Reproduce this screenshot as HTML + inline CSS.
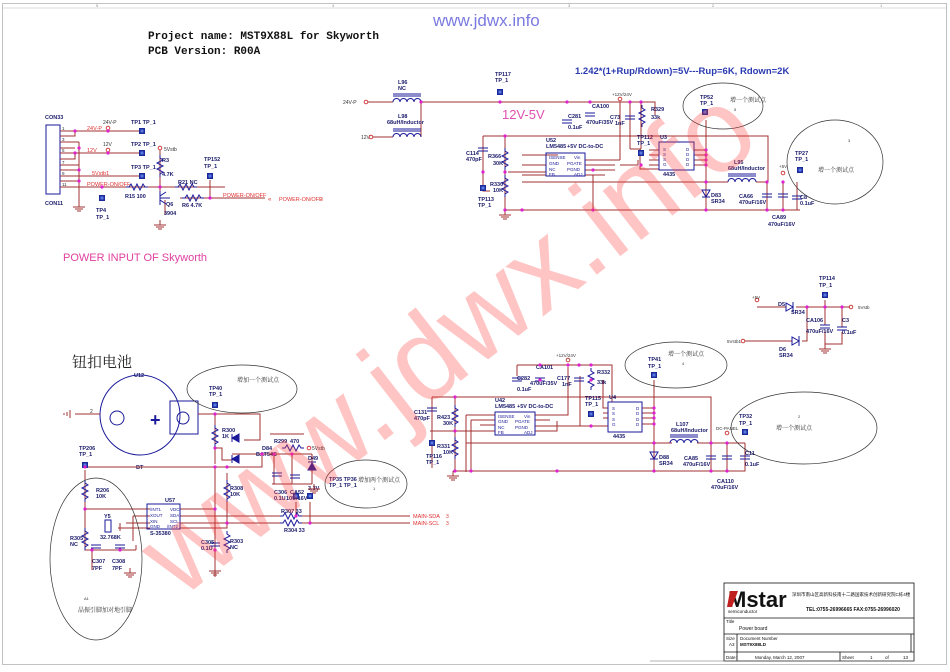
<!DOCTYPE html>
<html><head><meta charset="utf-8"><style>
html,body{margin:0;padding:0;background:#fff;width:950px;height:672px;overflow:hidden}
svg{display:block}
text{font-family:"Liberation Sans","Noto Sans CJK SC",sans-serif}
.w{stroke:#a03030;stroke-width:1;fill:none}
.b{stroke:#1a1a9a;stroke-width:1;fill:none}
.lb{font-size:5.5px;fill:#1a1a6a;font-weight:bold}
.rl{font-size:5.5px;fill:#e03030}
.cn{font-size:6px;fill:#333;font-family:"Liberation Serif","Noto Serif CJK SC",serif}
</style></head><body>
<svg width="950" height="672" viewBox="0 0 950 672" xmlns="http://www.w3.org/2000/svg">
<defs>
<g id="tp"><rect x="-3" y="-3" width="6" height="6" fill="#1a2a9a"/><rect x="-1.5" y="-1.5" width="3" height="3" fill="#5a7ae0"/></g>
<g id="gnd"><line x1="0" y1="0" x2="0" y2="5" stroke="#a03030"/><line x1="-6" y1="5" x2="6" y2="5" stroke="#a03030"/><line x1="-4" y1="7" x2="4" y2="7" stroke="#a03030"/><line x1="-2" y1="9" x2="2" y2="9" stroke="#a03030"/></g>
<g id="rv"><path d="M0,0 l0,3 l3,2 l-6,3 l6,3 l-6,3 l6,3 l-3,2 l0,3" stroke="#1a1a9a" fill="none"/></g>
<g id="rh"><path d="M0,0 l3,0 l2,-3 l3,6 l3,-6 l3,6 l3,-6 l2,3 l3,0" stroke="#1a1a9a" fill="none"/></g>
<g id="cv"><line x1="-5" y1="0" x2="5" y2="0" stroke="#1a1a9a"/><line x1="-5" y1="3" x2="5" y2="3" stroke="#1a1a9a"/></g>
<g id="dot"><circle r="1.6" fill="#e020d0"/></g>
<g id="ind"><path d="M0,0 a3.5,3.5 0 0 1 7,0 a3.5,3.5 0 0 1 7,0 a3.5,3.5 0 0 1 7,0 a3.5,3.5 0 0 1 7,0" stroke="#1a1a9a" fill="none"/><line x1="0" y1="-6" x2="28" y2="-6" stroke="#1a1a9a"/><line x1="0" y1="-8" x2="28" y2="-8" stroke="#1a1a9a"/></g>
</defs>

<!-- frame -->
<rect x="2.5" y="3.5" width="944" height="661" fill="none" stroke="#999" stroke-width="0.6"/>
<line x1="2" y1="8" x2="947" y2="8" stroke="#bbb" stroke-width="0.5"/>
<g font-size="4" fill="#888"><text x="96" y="7">5</text><text x="332" y="7">4</text><text x="568" y="7">3</text><text x="712" y="7">2</text><text x="880" y="7">1</text></g>

<!-- header texts -->
<text x="433" y="26" font-size="17" fill="#7a7ae0">www.jdwx.info</text>
<text x="148" y="39" font-size="11" font-weight="bold" fill="#111" style="font-family:'Liberation Mono',monospace">Project name: MST9X88L for Skyworth</text>
<text x="148" y="54" font-size="11" font-weight="bold" fill="#111" style="font-family:'Liberation Mono',monospace">PCB Version: R00A</text>
<text x="575" y="74" font-size="9.5" font-weight="bold" fill="#2a3ab0">1.242*(1+Rup/Rdown)=5V---Rup=6K, Rdown=2K</text>
<text x="63" y="261" font-size="11" fill="#e040a0">POWER INPUT OF Skyworth</text>
<text x="72" y="367" font-size="15" fill="#222" style="font-family:'Noto Serif CJK SC',serif">钮扣电池</text>

<!-- ===== top-left connector ===== -->
<text x="45" y="119" class="lb">CON33</text>
<rect x="46" y="125" width="14" height="69" fill="none" stroke="#1a1a9a"/>
<text x="45" y="205" class="lb">CON11</text>
<g class="w">
<path d="M60,131 h80 M60,136 h15 v-5 M60,142 h19 M60,148 h15 M60,153 h82 M60,159 h15 v-6 M60,165 h19 M60,170 h19 M60,176 h82 M60,181 h19 M60,187 h165"/>
<path d="M79,142 v60"/>
<path d="M160,150 v37 M160,187 v5 M165,200 v15 M180,198 h30 M170,187 h40 M210,180 v18 M210,198 h55"/>
</g>
<g font-size="4.5" fill="#333"><text x="62" y="130">1</text><text x="62" y="141">3</text><text x="62" y="152">5</text><text x="62" y="164">7</text><text x="62" y="175">9</text><text x="62" y="186">11</text></g>
<text x="87" y="130" class="rl">24V-P</text><text x="87" y="152" class="rl">12V</text><text x="92" y="175" class="rl">5Vstb1</text><text x="87" y="186" class="rl">POWER-ON/OFF</text>
<text x="103" y="124" font-size="5" fill="#333">24V-P</text><text x="103" y="146" font-size="5" fill="#333">12V</text>
<circle cx="108" cy="128" r="1.8" fill="none" stroke="#d04040"/><circle cx="108" cy="150" r="1.8" fill="none" stroke="#d04040"/>
<use href="#tp" x="142" y="131"/><use href="#tp" x="142" y="153"/><use href="#tp" x="142" y="176"/>
<text x="131" y="124" class="lb">TP1 TP_1</text><text x="131" y="146" class="lb">TP2 TP_1</text><text x="131" y="169" class="lb">TP3 TP_1</text>
<use href="#dot" x="75" y="131"/><use href="#dot" x="75" y="153"/><use href="#dot" x="79" y="170"/><use href="#dot" x="79" y="181"/><use href="#dot" x="79" y="148"/><use href="#dot" x="108" y="153"/><use href="#dot" x="108" y="131"/><use href="#dot" x="102" y="187"/><use href="#dot" x="160" y="187"/><use href="#dot" x="210" y="198"/>
<use href="#gnd" x="79" y="202"/>
<use href="#tp" x="102" y="198"/><text x="96" y="212" class="lb">TP4</text><text x="96" y="219" class="lb">TP_1</text>
<circle cx="160" cy="148" r="1.8" fill="none" stroke="#d04040"/><text x="164" y="151" font-size="5" fill="#333">5Vstb</text>
<use href="#rv" x="160" y="155"/><text x="162" y="162" class="lb">R3</text><text x="162" y="176" class="lb">4.7K</text>
<use href="#rh" x="126" y="187"/><text x="125" y="198" class="lb">R15 100</text>
<use href="#rh" x="175" y="187"/><text x="178" y="184" class="lb">R21 NC</text>
<use href="#rh" x="182" y="198"/><text x="182" y="207" class="lb">R6 4.7K</text>
<path d="M160,191 v14 M160,196 l6,-4 M160,200 l6,4 M170,198 h-10" stroke="#1a1a9a" fill="none"/>
<text x="166" y="206" class="lb">Q6</text><text x="164" y="215" class="lb">3904</text>
<use href="#gnd" x="160" y="220"/>
<use href="#tp" x="210" y="176"/><text x="204" y="161" class="lb">TP152</text><text x="204" y="168" class="lb">TP_1</text>
<text x="223" y="197" class="rl">POWER-ON/OFF</text><text x="268" y="201" font-size="6" fill="#e03030">«</text><text x="279" y="201" class="rl">POWER-ON/OFF</text><text x="320" y="201" font-size="5" fill="#e03030">3</text>

<!-- ===== top-middle buck ===== -->
<text x="343" y="104" font-size="5" fill="#333">24V-P</text><circle cx="366" cy="102" r="1.8" fill="none" stroke="#d04040"/>
<text x="361" y="139" font-size="5" fill="#333">12V</text><circle cx="371" cy="137" r="1.8" fill="none" stroke="#d04040"/>
<g class="w"><path d="M368,102 h25 M421,102 h234 v13 M373,137 h20 M421,102 v35"/>
<path d="M483,136 h285 v45 M483,136 v55 h7 M505,136 v74 M505,210 h295 M522,155 h36 M522,165 h24 M522,175 h24 M508,172 h38 M585,160 h35 M585,170 h30 M585,165 h30 M585,175 h20 M620,160 v-58 M593,175 v35 M620,165 h18 v-5 M630,102 v47 M641,102 v47 M630,149 h11 M640,149 v20 h19 M659,150 h-10 M659,155 h-10 M659,160 h-10 M659,165 h-10 M694,150 h12 M694,155 h12 M694,160 h12 M694,165 h12 M706,120 v90 M522,182 h206 M756,182 h12 M767,182 v28 M783,182 v28 M797,182 v28"/></g>
<use href="#ind" x="393" y="102"/><use href="#ind" x="393" y="137"/>
<text x="398" y="84" class="lb">L96</text><text x="398" y="90" class="lb">NC</text><text x="398" y="118" class="lb">L98</text><text x="387" y="124" class="lb">68uH/Inductor</text>
<use href="#tp" x="500" y="92"/><text x="495" y="76" class="lb">TP117</text><text x="495" y="82" class="lb">TP_1</text>
<text x="502" y="119" font-size="13" fill="#e050b0">12V-5V</text>
<use href="#cv" x="567" y="120"/><text x="568" y="118" class="lb">C281</text><text x="568" y="129" class="lb">0.1uF</text>
<use href="#cv" x="590" y="113"/><text x="592" y="108" class="lb">CA100</text><text x="586" y="124" class="lb">470uF/35V</text>
<use href="#cv" x="630" y="116"/><text x="610" y="119" class="lb">C73</text><text x="615" y="125" class="lb">1nF</text>
<use href="#rv" x="642" y="105"/><text x="651" y="111" class="lb">R329</text><text x="651" y="119" class="lb">33k</text>
<text x="612" y="96" font-size="4.5" fill="#333">+12V/24V</text><circle cx="620" cy="99" r="1.8" fill="none" stroke="#d04040"/>
<rect x="546" y="153" width="39" height="23" fill="none" stroke="#1a1a9a"/>
<text x="546" y="142" class="lb">U52</text><text x="546" y="148" class="lb">LM5485</text><text x="567" y="148" class="lb">+5V DC-to-DC</text>
<g font-size="4.5" fill="#1a1a9a"><text x="549" y="159">ISENSE</text><text x="549" y="165">GND</text><text x="549" y="171">NC</text><text x="549" y="176">FB</text><text x="574" y="159">Vin</text><text x="567" y="165">PGATE</text><text x="567" y="171">PGND</text><text x="574" y="176">ADJ</text></g>
<use href="#cv" x="483" y="148"/><text x="466" y="155" class="lb">C114</text><text x="466" y="161" class="lb">470pF</text>
<use href="#rv" x="505" y="148"/><text x="488" y="158" class="lb">R366</text><text x="493" y="165" class="lb">30K</text>
<use href="#rv" x="505" y="175"/><text x="490" y="186" class="lb">R330</text><text x="493" y="192" class="lb">10K</text>
<use href="#tp" x="483" y="188"/><text x="478" y="201" class="lb">TP113</text><text x="478" y="207" class="lb">TP_1</text>
<use href="#gnd" x="505" y="210"/>
<rect x="659" y="142" width="35" height="28" fill="none" stroke="#1a1a9a"/><text x="660" y="139" class="lb">U3</text><text x="663" y="176" class="lb">4435</text>
<g font-size="4.5" fill="#1a1a9a"><text x="663" y="151">S</text><text x="663" y="156">S</text><text x="663" y="161">S</text><text x="663" y="166">G</text><text x="686" y="151">D</text><text x="686" y="156">D</text><text x="686" y="161">D</text><text x="686" y="166">D</text></g>
<use href="#tp" x="641" y="153"/><text x="637" y="139" class="lb">TP112</text><text x="637" y="145" class="lb">TP_1</text>
<use href="#tp" x="705" y="112"/><text x="700" y="99" class="lb">TP52</text><text x="700" y="105" class="lb">TP_1</text>
<ellipse cx="723" cy="106" rx="40" ry="23" fill="none" stroke="#333" stroke-width="0.7"/><text x="730" y="102" class="cn">增一个测试点</text><text x="734" y="111" font-size="4" fill="#333">5</text>
<ellipse cx="835" cy="162" rx="48" ry="42" fill="none" stroke="#333" stroke-width="0.7"/><text x="818" y="172" class="cn">增一个测试点</text><text x="848" y="142" font-size="4" fill="#333">3</text>
<use href="#ind" x="728" y="182"/><text x="734" y="164" class="lb">L95</text><text x="728" y="170" class="lb">68uH/Inductor</text>
<path d="M702,190 h8 l-4,7 z M702,197 h8" stroke="#1a1a9a" fill="none"/><text x="711" y="197" class="lb">D83</text><text x="711" y="203" class="lb">SR34</text>
<use href="#cv" x="767" y="194"/><text x="739" y="198" class="lb">CA66</text><text x="739" y="204" class="lb">470uF/16V</text>
<use href="#cv" x="783" y="194"/><use href="#cv" x="797" y="196"/><text x="800" y="199" class="lb">C8</text><text x="800" y="205" class="lb">0.1uF</text>
<text x="772" y="219" class="lb">CA89</text><text x="768" y="226" class="lb">470uF/16V</text>
<circle cx="783" cy="173" r="1.8" fill="none" stroke="#d04040"/><text x="779" y="168" font-size="4.5" fill="#333">+5V</text>
<use href="#tp" x="800" y="170"/><text x="795" y="155" class="lb">TP27</text><text x="795" y="161" class="lb">TP_1</text>
<g><use href="#dot" x="421" y="102"/><use href="#dot" x="500" y="102"/><use href="#dot" x="567" y="102"/><use href="#dot" x="590" y="102"/><use href="#dot" x="630" y="102"/><use href="#dot" x="641" y="102"/><use href="#dot" x="505" y="136"/><use href="#dot" x="483" y="172"/><use href="#dot" x="505" y="172"/><use href="#dot" x="505" y="210"/><use href="#dot" x="522" y="210"/><use href="#dot" x="593" y="210"/><use href="#dot" x="706" y="210"/><use href="#dot" x="767" y="210"/><use href="#dot" x="783" y="210"/><use href="#dot" x="706" y="150"/><use href="#dot" x="706" y="155"/><use href="#dot" x="706" y="160"/><use href="#dot" x="706" y="165"/><use href="#dot" x="706" y="182"/><use href="#dot" x="767" y="182"/><use href="#dot" x="783" y="182"/><use href="#dot" x="641" y="165"/><use href="#dot" x="593" y="170"/></g>

<!-- ===== 5Vstb OR ===== -->
<g class="w"><path d="M757,307 h29 M796,307 h54 M745,341 h47 M802,341 h5 v-34 M825,300 v25 M842,307 v20 M825,330 v14 M842,332 v12 h-17"/></g>
<circle cx="757" cy="300" r="1.8" fill="none" stroke="#d04040"/><text x="752" y="299" font-size="4.5" fill="#333">+5V</text>
<path d="M786,303 v8 l7,-4 z M793,302 v10" stroke="#1a1a9a" fill="none"/><text x="778" y="306" class="lb">D5</text><text x="791" y="314" class="lb">SR34</text>
<path d="M792,337 v8 l7,-4 z M799,336 v10" stroke="#1a1a9a" fill="none"/><text x="779" y="351" class="lb">D6</text><text x="779" y="357" class="lb">SR34</text>
<circle cx="743" cy="341" r="1.8" fill="none" stroke="#d04040"/><text x="741" y="343" font-size="4.5" fill="#333" text-anchor="end">5Vstb1</text>
<circle cx="851" cy="307" r="1.8" fill="none" stroke="#d04040"/><text x="858" y="309" font-size="4.5" fill="#333">5Vstb</text>
<use href="#tp" x="825" y="295"/><text x="819" y="280" class="lb">TP114</text><text x="819" y="287" class="lb">TP_1</text>
<use href="#cv" x="825" y="325"/><text x="806" y="322" class="lb">CA106</text><text x="806" y="333" class="lb">470uF/16V</text>
<use href="#cv" x="842" y="327"/><text x="842" y="322" class="lb">C3</text><text x="842" y="334" class="lb">0.1uF</text>
<use href="#gnd" x="825" y="344"/>
<use href="#dot" x="807" y="307"/><use href="#dot" x="825" y="307"/><use href="#dot" x="842" y="307"/>

<!-- ===== bottom buck ===== -->
<g class="w"><path d="M517,365 h95 v37 M432,397 h279 v46 M432,397 v71 M455,397 v74 M453,471 h292 v-28 M466,415 h29 M466,415 v57 M471,420 h24 M471,420 v51 M480,425 h15 M430,431 h65 M535,415 h33 v-48 M535,420 h15 M535,426 h45 v-50 M535,431 h22 v-10 M568,426 h40 M608,408 h-5 v-28 M608,413 h-5 M608,418 h-5 M642,408 h12 M642,413 h12 M642,418 h12 M642,424 h12 M654,380 v91 M466,443 h206 M697,443 h48 M711,443 v28 M727,443 v28 M517,365 v11"/></g>
<use href="#ind" x="670" y="443"/><text x="676" y="426" class="lb">L107</text><text x="671" y="432" class="lb">68uH/Inductor</text>
<use href="#cv" x="517" y="378"/><text x="517" y="380" class="lb">C282</text><text x="517" y="391" class="lb">0.1uF</text>
<use href="#cv" x="540" y="378"/><text x="536" y="369" class="lb">CA101</text><text x="530" y="385" class="lb">470uF/35V</text>
<use href="#cv" x="579" y="378"/><text x="557" y="380" class="lb">C177</text><text x="562" y="386" class="lb">1nF</text>
<use href="#rv" x="591" y="368"/><text x="597" y="374" class="lb">R332</text><text x="597" y="384" class="lb">33k</text>
<text x="556" y="357" font-size="4.5" fill="#333">+12V/24V</text><circle cx="568" cy="360" r="1.8" fill="none" stroke="#d04040"/>
<rect x="495" y="412" width="40" height="23" fill="none" stroke="#1a1a9a"/>
<text x="495" y="402" class="lb">U42</text><text x="495" y="408" class="lb">LM5485</text><text x="517" y="408" class="lb">+5V DC-to-DC</text>
<g font-size="4.5" fill="#1a1a9a"><text x="498" y="418">ISENSE</text><text x="498" y="423">GND</text><text x="498" y="429">NC</text><text x="498" y="434">FB</text><text x="524" y="418">Vin</text><text x="515" y="423">PGATE</text><text x="515" y="429">PGND</text><text x="524" y="434">ADJ</text></g>
<use href="#cv" x="432" y="408"/><text x="414" y="414" class="lb">C131</text><text x="414" y="420" class="lb">470pF</text>
<use href="#rv" x="455" y="405"/><text x="437" y="419" class="lb">R423</text><text x="443" y="425" class="lb">30K</text>
<use href="#rv" x="455" y="437"/><text x="437" y="448" class="lb">R331</text><text x="443" y="454" class="lb">10K</text>
<use href="#tp" x="432" y="443"/><text x="426" y="458" class="lb">TP116</text><text x="426" y="464" class="lb">TP_1</text>
<use href="#gnd" x="453" y="471"/>
<rect x="608" y="402" width="34" height="30" fill="none" stroke="#1a1a9a"/><text x="609" y="399" class="lb">U4</text><text x="613" y="438" class="lb">4435</text>
<g font-size="4.5" fill="#1a1a9a"><text x="612" y="410">S</text><text x="612" y="415">S</text><text x="612" y="421">S</text><text x="612" y="426">G</text><text x="636" y="410">D</text><text x="636" y="415">D</text><text x="636" y="421">D</text><text x="636" y="426">D</text></g>
<use href="#tp" x="591" y="414"/><text x="585" y="400" class="lb">TP115</text><text x="585" y="406" class="lb">TP_1</text>
<use href="#tp" x="654" y="375"/><text x="648" y="361" class="lb">TP41</text><text x="648" y="368" class="lb">TP_1</text>
<ellipse cx="676" cy="365" rx="51" ry="23" fill="none" stroke="#333" stroke-width="0.7"/><text x="668" y="356" class="cn">增一个测试点</text><text x="682" y="365" font-size="4" fill="#333">4</text>
<ellipse cx="804" cy="428" rx="73" ry="36" fill="none" stroke="#333" stroke-width="0.7"/><text x="776" y="430" class="cn">增一个测试点</text><text x="798" y="418" font-size="4" fill="#333">2</text>
<use href="#tp" x="745" y="432"/><text x="739" y="418" class="lb">TP32</text><text x="739" y="425" class="lb">TP_1</text>
<circle cx="727" cy="433" r="1.8" fill="none" stroke="#d04040"/><text x="716" y="430" font-size="4.5" fill="#333">DC-PANEL</text>
<path d="M650,452 h8 l-4,7 z M650,459 h8" stroke="#1a1a9a" fill="none"/><text x="659" y="459" class="lb">D88</text><text x="659" y="465" class="lb">SR34</text>
<use href="#cv" x="711" y="456"/><text x="684" y="460" class="lb">CA85</text><text x="683" y="466" class="lb">470uF/16V</text>
<use href="#cv" x="727" y="456"/><use href="#cv" x="745" y="456"/><text x="745" y="455" class="lb">C11</text><text x="745" y="466" class="lb">0.1uF</text>
<text x="717" y="483" class="lb">CA110</text><text x="711" y="489" class="lb">470uF/16V</text>
<g><use href="#dot" x="540" y="365"/><use href="#dot" x="568" y="365"/><use href="#dot" x="579" y="365"/><use href="#dot" x="591" y="365"/><use href="#dot" x="455" y="397"/><use href="#dot" x="455" y="431"/><use href="#dot" x="455" y="471"/><use href="#dot" x="471" y="471"/><use href="#dot" x="557" y="471"/><use href="#dot" x="654" y="471"/><use href="#dot" x="711" y="471"/><use href="#dot" x="727" y="471"/><use href="#dot" x="654" y="408"/><use href="#dot" x="654" y="413"/><use href="#dot" x="654" y="418"/><use href="#dot" x="654" y="424"/><use href="#dot" x="654" y="443"/><use href="#dot" x="711" y="443"/><use href="#dot" x="727" y="443"/><use href="#dot" x="591" y="426"/><use href="#dot" x="540" y="380"/><use href="#dot" x="591" y="380"/></g>

<!-- ===== RTC battery section ===== -->
<circle cx="140" cy="415" r="40" fill="none" stroke="#1a1a9a"/>
<circle cx="117" cy="418" r="7" fill="none" stroke="#1a1a9a"/>
<rect x="170" y="401" width="28" height="33" fill="none" stroke="#1a1a9a"/><circle cx="183" cy="418" r="6" fill="none" stroke="#1a1a9a"/>
<text x="150" y="426" font-size="18" font-weight="bold" fill="#1a1a9a">+</text>
<text x="134" y="377" class="lb">U12</text><text x="136" y="469" class="lb">BT</text>
<g class="w"><path d="M75,414 h25 M198,414 h62 v26 h-16 M215,414 v50 M215,448 h7 v12 h10 M215,467 h47 v-13 h-30 M262,454 h50 M274,454 v30 M292,454 v30 M312,454 v30 M272,484 h40 M270,434 h34 M82,467 h180 M85,470 v80 h51 M85,509 h65 M133,516 h17 M126,523 h24 M118,528 h32 M180,509 h35 M180,516 h100 M300,516 h110 M180,523 h100 M300,523 h110 M180,528 h47 v-55 M215,467 v110 M227,508 v-30 M92,550 v20 M136,550 v-5 M120,523 v8 M133,516 v25 M296,502 v14 M310,502 v21"/></g>
<path d="M70,410 v8 M67,412 v4 M64,413 v2" stroke="#a03030"/><text x="90" y="413" font-size="5" fill="#333">2</text>
<use href="#tp" x="215" y="405"/><text x="209" y="390" class="lb">TP40</text><text x="209" y="396" class="lb">TP_1</text>
<ellipse cx="242" cy="389" rx="55" ry="24" fill="none" stroke="#333" stroke-width="0.7"/><text x="237" y="382" class="cn">增加一个测试点</text>
<use href="#rv" x="215" y="425"/><text x="222" y="432" class="lb">R300</text><text x="222" y="438" class="lb">1K</text>
<path d="M239,434 l-7,4 l7,4 z M232,434 v8 M239,455 l-7,4 l7,4 z M232,455 v8" stroke="#1a1a9a" fill="#1a1a9a"/>
<text x="262" y="450" class="lb">D84</text><text x="256" y="456" class="lb">BAT54C</text>
<use href="#rh" x="282" y="448"/><text x="274" y="443" class="lb">R299</text><text x="290" y="443" class="lb">470</text>
<circle cx="309" cy="448" r="1.8" fill="none" stroke="#d04040"/><text x="312" y="450" font-size="5" fill="#333">5Vstb</text>
<use href="#cv" x="277" y="473"/><text x="274" y="494" class="lb">C306</text><text x="274" y="500" class="lb">0.1U</text>
<use href="#cv" x="295" y="475"/><text x="290" y="494" class="lb">CA52</text><text x="286" y="500" class="lb">10U/16V</text>
<path d="M308,470 h8 l-4,-7 z M308,462 h8" stroke="#1a1a9a" fill="#1a1a9a"/><text x="308" y="460" class="lb">D49</text><text x="308" y="490" class="lb">3.3V</text>
<use href="#gnd" x="314" y="484"/>
<use href="#tp" x="85" y="465"/><text x="79" y="450" class="lb">TP206</text><text x="79" y="456" class="lb">TP_1</text>
<use href="#rv" x="85" y="480"/><text x="96" y="492" class="lb">R206</text><text x="96" y="498" class="lb">10K</text>
<use href="#rv" x="85" y="528"/><text x="70" y="540" class="lb">R305</text><text x="70" y="546" class="lb">NC</text>
<rect x="105" y="520" width="6" height="12" fill="none" stroke="#1a1a9a"/><text x="104" y="518" class="lb">Y5</text><text x="100" y="539" class="lb">32.768K</text>
<use href="#cv" x="96" y="545"/><use href="#cv" x="120" y="545"/><text x="92" y="563" class="lb">C307</text><text x="92" y="570" class="lb">7PF</text><text x="112" y="563" class="lb">C308</text><text x="112" y="570" class="lb">7PF</text>
<use href="#gnd" x="130" y="568"/>
<rect x="147" y="504" width="33" height="25" fill="none" stroke="#1a1a9a"/>
<text x="165" y="502" class="lb">U57</text><text x="150" y="535" class="lb">S-35380</text>
<g font-size="4.5" fill="#1a1a9a"><text x="150" y="511">/INT1</text><text x="150" y="517">XOUT</text><text x="150" y="523">XIN</text><text x="150" y="528">GND</text><text x="170" y="511">VDC</text><text x="170" y="517">SDA</text><text x="170" y="523">SCL</text><text x="167" y="528">/INT2</text></g>
<use href="#rv" x="227" y="480"/><text x="230" y="490" class="lb">R308</text><text x="230" y="496" class="lb">10K</text>
<use href="#rv" x="227" y="531"/><text x="230" y="543" class="lb">R303</text><text x="230" y="549" class="lb">NC</text>
<use href="#cv" x="215" y="543"/><text x="201" y="544" class="lb">C305</text><text x="201" y="550" class="lb">0.1U</text>
<use href="#gnd" x="215" y="566"/>
<use href="#rh" x="280" y="516"/><use href="#rh" x="280" y="523"/><text x="281" y="513" class="lb">R307 33</text><text x="284" y="532" class="lb">R304 33</text>
<text x="413" y="518" class="rl">MAIN-SDA</text><text x="413" y="525" class="rl">MAIN-SCL</text><text x="446" y="518" font-size="5" fill="#e03030">3</text><text x="446" y="525" font-size="5" fill="#e03030">3</text>
<use href="#tp" x="296" y="496"/><use href="#tp" x="310" y="496"/><text x="329" y="481" class="lb">TP35 TP36</text><text x="329" y="487" class="lb">TP_1 TP_1</text>
<ellipse cx="366" cy="484" rx="41" ry="24" fill="none" stroke="#333" stroke-width="0.7"/><text x="358" y="482" class="cn">增加两个测试点</text><text x="373" y="490" font-size="4" fill="#333">1</text>
<ellipse cx="96" cy="559" rx="46" ry="81" fill="none" stroke="#333" stroke-width="0.7"/><text x="84" y="600" font-size="4" fill="#333">A1</text><text x="78" y="612" class="cn">晶振引脚加对地引脚</text>
<g><use href="#dot" x="215" y="414"/><use href="#dot" x="215" y="448"/><use href="#dot" x="215" y="467"/><use href="#dot" x="227" y="467"/><use href="#dot" x="262" y="454"/><use href="#dot" x="274" y="454"/><use href="#dot" x="292" y="454"/><use href="#dot" x="85" y="509"/><use href="#dot" x="215" y="509"/><use href="#dot" x="227" y="523"/><use href="#dot" x="296" y="516"/><use href="#dot" x="310" y="523"/><use href="#dot" x="215" y="550"/><use href="#dot" x="92" y="550"/><use href="#dot" x="85" y="467"/><use href="#dot" x="120" y="550"/></g>

<!-- ===== title block ===== -->
<g stroke="#111" stroke-width="0.8" fill="none">
<rect x="724" y="583" width="190" height="78"/>
<line x1="724" y1="618" x2="914" y2="618"/><line x1="724" y1="634" x2="914" y2="634"/><line x1="724" y1="652" x2="914" y2="652"/>
<line x1="737" y1="634" x2="737" y2="661"/><line x1="840" y1="652" x2="840" y2="661"/><line x1="911" y1="634" x2="911" y2="652"/>
</g>
<text x="728" y="607" font-size="22" font-weight="900" fill="#111" font-family="Liberation Serif">Mstar</text>
<path d="M730,591 l8,0 l-6,16 l-5,0 z" fill="#c02020"/>
<text x="728" y="613" font-size="4.5" fill="#111">semiconductor</text>
<text x="792" y="596" font-size="4.5" fill="#111">深圳市南山区高新科技南十二路国家技术创新研究院C栋4楼</text>
<text x="806" y="611" font-size="5" font-weight="bold" fill="#111">TEL:0755-26996665    FAX:0755-26996020</text>
<text x="726" y="623" font-size="4.5" fill="#111">Title</text><text x="739" y="630" font-size="5" fill="#111">Power board</text>
<text x="726" y="640" font-size="4.5" fill="#111">Size</text><text x="729" y="646" font-size="4.5" fill="#111">A3</text>
<text x="740" y="640" font-size="4.5" fill="#111">Document Number</text><text x="740" y="646" font-size="4.5" font-weight="bold" fill="#111">MST9X88LD</text>
<text x="726" y="659" font-size="4.5" fill="#111">Date:</text><text x="755" y="659" font-size="4.5" fill="#111">Monday, March 12, 2007</text>
<text x="842" y="659" font-size="4.5" fill="#111">Sheet</text><text x="870" y="659" font-size="4.5" fill="#111">1</text><text x="885" y="659" font-size="4.5" fill="#111">of</text><text x="903" y="659" font-size="4.5" fill="#111">13</text>
<line x1="650" y1="661" x2="914" y2="661" stroke="#666" stroke-width="0.5"/>

<!-- watermark -->
<text x="472" y="372" font-size="118" fill="#ff3a3a" fill-opacity="0.3" text-anchor="middle" transform="rotate(-38 472 372)" font-family="Liberation Sans">www.jdwx.info</text>
</svg>
</body></html>
